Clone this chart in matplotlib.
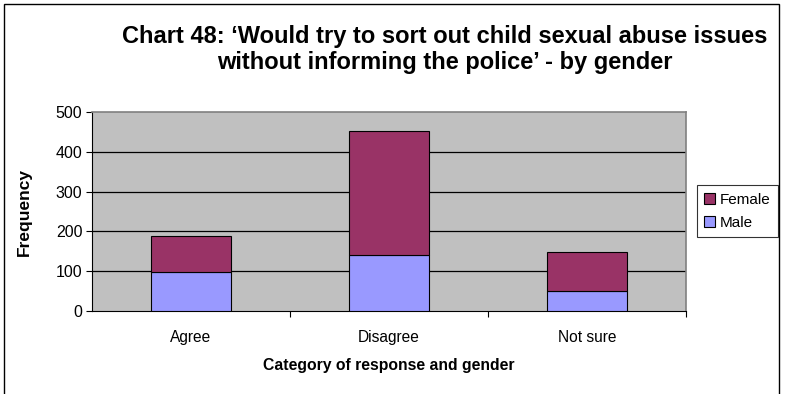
import matplotlib
matplotlib.use("Agg")
import matplotlib.pyplot as plt
from matplotlib.patches import Rectangle, Patch

categories = ["Agree", "Disagree", "Not sure"]
male = [98, 141, 50]
female = [90, 311, 97]
y_ticks = [0, 100, 200, 300, 400, 500]

plt.rcParams['font.family'] = ['Liberation Sans', 'DejaVu Sans']

fig = plt.figure(figsize=(7.87, 3.94), dpi=100)
fig.patch.set_facecolor('white')
ax = fig.add_axes([92/787, 1-311/394, (686-92)/787, (311-112)/394])
ax.set_facecolor('#C0C0C0')

x = list(range(len(categories)))
ax.bar(x, male, width=0.4, color='#9999FF', edgecolor='black', linewidth=0.8, zorder=3)
ax.bar(x, female, width=0.4, bottom=male, color='#993366', edgecolor='black', linewidth=0.8, zorder=3)

ax.set_xlim(-0.5, 2.5)
ax.set_ylim(0, 500)
ax.set_yticks(y_ticks)
ax.set_yticklabels([str(v) for v in y_ticks], fontsize=11.5)
for v in y_ticks[1:-1]:
    ax.axhline(v, color='black', linewidth=0.9, zorder=1)
ax.set_xticks([0.5, 1.5, 2.5])
ax.set_xticklabels([])
ax.set_xticks(x, minor=True)
ax.set_xticklabels(categories, minor=True, fontsize=11.2)
ax.tick_params(axis='x', which='minor', length=0, pad=14)
ax.tick_params(axis='x', which='major', length=4, direction='out', width=0.8)
ax.tick_params(axis='y', length=4, direction='out', width=0.8, pad=3)

for s in ['top', 'right']:
    ax.spines[s].set_color('#808080')
    ax.spines[s].set_linewidth(1.2)
for s in ['left', 'bottom']:
    ax.spines[s].set_color('black')
    ax.spines[s].set_linewidth(0.8)

ax.set_xlabel('Category of response and gender', fontsize=11.3, fontweight='bold', labelpad=9)
ax.set_ylabel('Frequency', fontsize=12.5, fontweight='bold', labelpad=17)

fig.text(445/787, 1-49.5/394, "Chart 48: \u2018Would try to sort out child sexual abuse issues\nwithout informing the police\u2019 - by gender",
         ha='center', va='center', fontsize=17, fontweight='bold', linespacing=1.12)

handles = [Patch(facecolor='#993366', edgecolor='black', linewidth=0.8),
           Patch(facecolor='#9999FF', edgecolor='black', linewidth=0.8)]
leg = fig.legend(handles, ['Female', 'Male'], loc='upper right',
                 bbox_to_anchor=(778/787, 1-185/394), fontsize=11, frameon=True,
                 fancybox=False, edgecolor='black', handlelength=0.7, handleheight=0.7,
                 handletextpad=0.3, borderpad=0.5, labelspacing=0.6, borderaxespad=0)
leg.get_frame().set_linewidth(0.8)

fig.patches.append(Rectangle((4/787, -0.05), (779-4)/787, 1.05-4/394, transform=fig.transFigure,
                             fill=False, edgecolor='black', linewidth=1.0))

fig.savefig('out.png', dpi=100)
